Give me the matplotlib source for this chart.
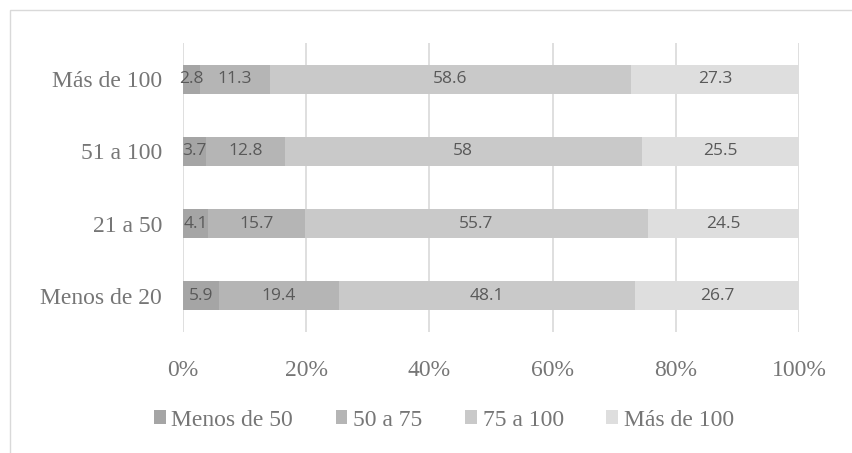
import numpy as np
import matplotlib.pyplot as plt
from matplotlib.patches import Rectangle

# Data
categories = ['Menos de 20', '21 a 50', '51 a 100', 'Más de 100']
series_names = ['Menos de 50', '50 a 75', '75 a 100', 'Más de 100']
menos_50 = [5.9, 4.1, 3.7, 2.8]
de_50_75 = [19.4, 15.7, 12.8, 11.3]
de_75_100 = [48.1, 55.7, 58.0, 58.6]
mas_100 = [26.7, 24.5, 25.5, 27.3]
tick_labels = ['0%', '20%', '40%', '60%', '80%', '100%']

colors = ['#a5a5a5', '#b5b5b5', '#c9c9c9', '#dedede']
serif = 'Liberation Serif'
sans = 'Open Sans'

fig = plt.figure(figsize=(8.53, 4.53), dpi=100)
ax = fig.add_axes([183 / 853, 1 - 332 / 453, 616 / 853, 289 / 453])

data = np.array([menos_50, de_50_75, de_75_100, mas_100])
totals = data.sum(axis=0)
y = np.arange(len(categories))
left = np.zeros(len(categories))
handles = []
for vals, name, col in zip(data, series_names, colors):
    frac = vals / totals
    b = ax.barh(y, frac, left=left, height=0.4, color=col, label=name, zorder=2)
    handles.append(b)
    for yi, l, f, v in zip(y, left, frac, vals):
        ax.text(l + f / 2, yi, f'{v:g}', ha='center', va='center',
                fontsize=12.5, color='#595959', family=sans, zorder=3)
    left += frac

ax.set_xlim(0, 1)
ax.set_ylim(-0.5, 3.5)
ax.set_xticks(np.linspace(0, 1, 6))
ax.set_xticklabels(tick_labels, family=serif, fontsize=17, color='#767676')
ax.set_yticks(y)
ax.set_yticklabels(categories, family=serif, fontsize=17, color='#767676')
ax.tick_params(axis='y', length=0, pad=15)
ax.tick_params(axis='x', length=0, pad=20)
ax.grid(axis='x', color='#d9d9d9', linewidth=1.2, zorder=0)
for s in ax.spines.values():
    s.set_visible(False)

leg = fig.legend(handles=handles, loc='center', bbox_to_anchor=(444 / 853, 1 - 420 / 453),
                 ncol=4, frameon=False, handlelength=0.5, handleheight=0.5,
                 handletextpad=0.25, columnspacing=1.8,
                 prop={'family': serif, 'size': 17})
for t in leg.get_texts():
    t.set_color('#767676')

# chart border
fig.patches.append(Rectangle((10 / 853, -0.1), 1.2, 1 - 10 / 453 + 0.1,
                             transform=fig.transFigure, fill=False,
                             edgecolor='#d9d9d9', linewidth=1))

fig.savefig('out.png', dpi=100)
